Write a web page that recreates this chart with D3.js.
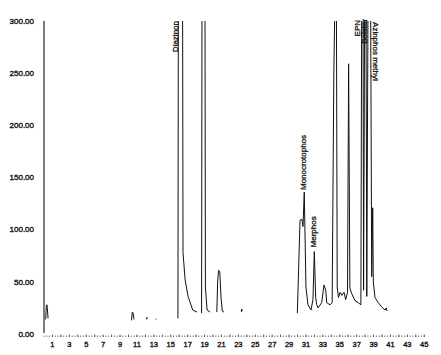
<!DOCTYPE html>
<html>
<head>
<meta charset="utf-8">
<script src="https://cdn.jsdelivr.net/npm/d3@7"></script>
<style>
  html, body { margin: 0; padding: 0; background: #fff; }
  svg text { font-family: "Liberation Sans", Arial, sans-serif; fill: #111; }
</style>
</head>
<body>
<svg id="chart" width="441" height="355"></svg>
<script>
// retention time (min) / detector response
var peakStart = [[0.2, 14], [0.28, 27], [0.35, 28], [0.42, 22], [0.48, 15]];
var peak10 = [[10.35, 13], [10.45, 21], [10.55, 20], [10.65, 14]];
var peak12 = [[12.1, 14], [12.2, 16], [12.25, 15]];
var peak13 = [[13.2, 14], [13.3, 14.5]];
var diazinon = [[15.85, 15], [15.9, 330], [16.4, 330], [16.45, 78], [16.7, 52], [17.05, 36], [17.6, 23], [18.1, 21]];
var peak19 = [[18.65, 20], [18.7, 330], [19.05, 330], [19.1, 45], [19.3, 23], [19.65, 21]];
var peak21 = [[20.45, 21], [20.55, 50], [20.65, 61], [20.8, 60], [20.95, 35], [21.1, 22], [21.3, 21]];
var peak23 = [[23.35, 21], [23.4, 24], [23.45, 22]];
var lateGroup = [
    [29.98, 20], [30.3, 109], [30.53, 110], [30.65, 103], [30.8, 136], [31.0, 45], [31.24, 28], [31.6, 23],
    [31.83, 33], [31.99, 79], [32.15, 35], [32.27, 28], [32.43, 25],
    [32.86, 30], [33.14, 47], [33.34, 42], [33.46, 30], [33.85, 28],
    [34.1, 30], [34.3, 250], [34.45, 330], [34.6, 330], [34.7, 45], [34.85, 35], [35.05, 40], [35.25, 37], [35.5, 40], [35.7, 33],
    [35.92, 40], [36.05, 259], [36.2, 44], [36.4, 39], [36.8, 32], [37.2, 30], [37.5, 28],
    [37.6, 330], [37.75, 330], [37.82, 42], [37.95, 330], [38.1, 330], [38.2, 36], [38.35, 330], [38.65, 330],
    [38.78, 55], [38.9, 121], [38.97, 50], [39.17, 35], [39.56, 30], [39.96, 26], [40.36, 23], [40.5, 25], [40.6, 22]
];
var segments = [peakStart, peak10, peak12, peak13, diazinon, peak19, peak21, peak23, lateGroup];

// peak labels: name, time, response at the text anchor, reading direction
var labelNames = ["Diazinon", "Monocrotophos", "Merphos", "EPN", "Bolstar", "Azinphos methyl"];
var labelTimes = [15.8, 31.0, 32.2, 37.4, 38.22, 38.93];
var labelValues = [300, 138, 83, 301, 302, 299];
var labelUp = [true, true, true, true, true, false];

var yTicks = [0, 50, 100, 150, 200, 250, 300];
var xTicks = d3.range(1, 46, 2);

var svg = d3.select("#chart");

var x = d3.scaleLinear().domain([0, 45]).range([44, 424.25]);
var y = d3.scaleLinear().domain([0, 300]).range([334, 21]);

// y axis: plain line with labels, no tick marks
svg.append("line")
    .attr("x1", 44).attr("x2", 44)
    .attr("y1", y(300)).attr("y2", y(0) - 1)
    .attr("stroke", "#111").attr("stroke-width", 1.1);

svg.selectAll(".ylab")
    .data(yTicks)
    .enter().append("text")
    .attr("class", "ylab")
    .attr("x", 34)
    .attr("y", function (d) { return y(d); })
    .attr("dy", "0.35em")
    .attr("text-anchor", "end")
    .style("font-size", "8px")
    .style("stroke", "#111").style("stroke-width", 0.35)
    .text(function (d) { return d3.format(".2f")(d); });

// x axis: dotted row of small ticks
var minor = d3.range(0, 45.01, 1 / 3);
svg.selectAll(".mtick")
    .data(minor)
    .enter().append("line")
    .attr("class", "mtick")
    .attr("x1", function (d) { return x(d); })
    .attr("x2", function (d) { return x(d); })
    .attr("y1", 335.5).attr("y2", 337)
    .attr("stroke", "#555").attr("stroke-width", 0.8);

svg.selectAll(".xtick")
    .data(d3.range(1, 46))
    .enter().append("line")
    .attr("class", "xtick")
    .attr("x1", function (d) { return x(d); })
    .attr("x2", function (d) { return x(d); })
    .attr("y1", 334.5).attr("y2", 337)
    .attr("stroke", "#555").attr("stroke-width", 0.9);

svg.selectAll(".xlab")
    .data(xTicks)
    .enter().append("text")
    .attr("class", "xlab")
    .attr("x", function (d) { return x(d); })
    .attr("y", 346.5)
    .attr("text-anchor", "middle")
    .style("font-size", "7.5px")
    .style("stroke", "#111").style("stroke-width", 0.35)
    .text(function (d) { return d; });

// trace, clipped at the top of the scale
svg.append("clipPath").attr("id", "plot-clip")
    .append("rect")
    .attr("x", 44).attr("y", y(300))
    .attr("width", 390).attr("height", y(0) - y(300) + 10);

var line = d3.line()
    .x(function (d) { return x(d[0]); })
    .y(function (d) { return y(d[1]); });

svg.append("g")
    .attr("clip-path", "url(#plot-clip)")
    .selectAll("path")
    .data(segments)
    .enter().append("path")
    .attr("d", line)
    .attr("fill", "none")
    .attr("stroke", "#111")
    .attr("stroke-width", 1)
    .attr("stroke-linejoin", "round");

// rotated peak names
svg.selectAll(".plab")
    .data(labelNames)
    .enter().append("text")
    .attr("class", "plab")
    .attr("transform", function (d, i) {
        return "translate(" + x(labelTimes[i]) + "," + y(labelValues[i]) + ") rotate(" + (labelUp[i] ? -90 : 90) + ")";
    })
    .attr("text-anchor", function (d, i) {
        if (!labelUp[i]) return "start";
        return labelValues[i] >= 300 ? "end" : "start";
    })
    .style("font-size", "8px")
    .style("stroke", "#111").style("stroke-width", 0.3)
    .text(function (d) { return d; });
</script>
</body>
</html>
